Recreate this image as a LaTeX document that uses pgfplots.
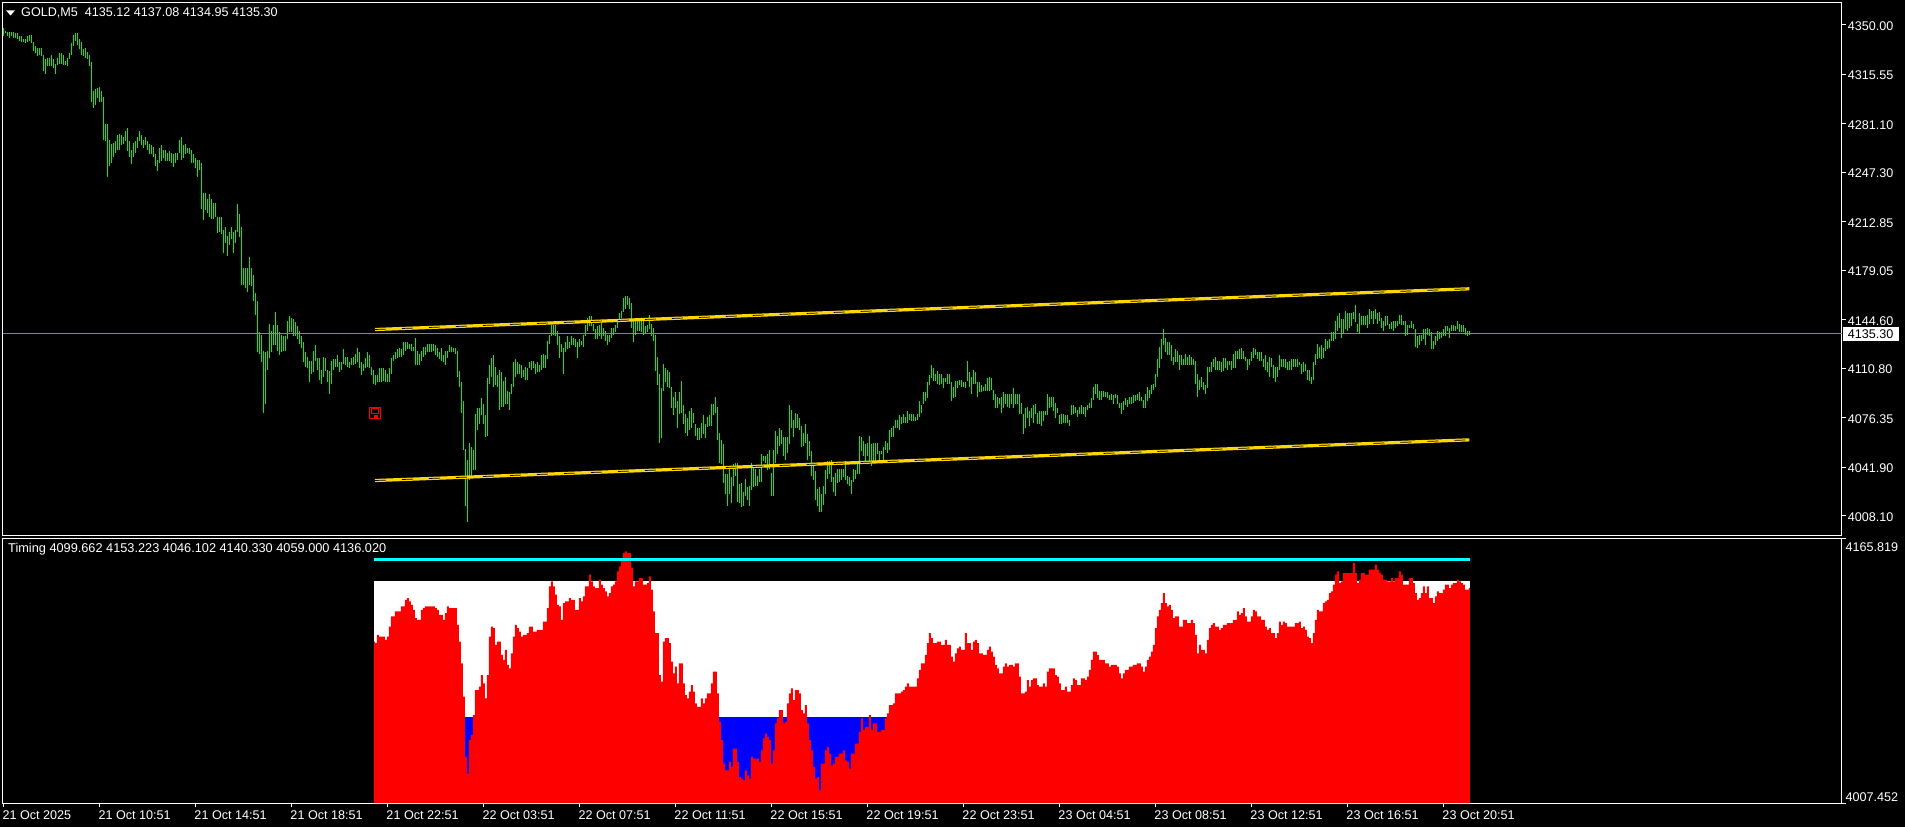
\documentclass[border=0pt]{standalone}
\usepackage{fontspec}
\setmainfont{Liberation Sans}
\usepackage{pgfplots}
\usepackage{pgfplotstable}
\pgfplotsset{compat=1.18}
\definecolor{barGreen}{HTML}{00F000}
\definecolor{lvl}{HTML}{FFD700}
\definecolor{slate}{HTML}{778899}
\definecolor{lvlcyan}{HTML}{00FFFF}
\definecolor{histblue}{HTML}{0000FF}
\definecolor{histred}{HTML}{FF0000}
\newcommand{\lbl}{\fontsize{12.6}{14}\selectfont}
\pgfdeclareplotmark{floppy}{%
  \pgfsetlinewidth{1pt}%
  \pgfpathrectangle{\pgfpoint{-5.5pt}{-5.5pt}}{\pgfpoint{11pt}{11pt}}\pgfusepathqstroke
  \pgfpathrectangle{\pgfpoint{-3.5pt}{-0.5pt}}{\pgfpoint{7pt}{5pt}}\pgfusepathqstroke
  \pgfpathrectangle{\pgfpoint{-1pt}{-5pt}}{\pgfpoint{4pt}{3pt}}\pgfusepathqfill}
\pgfplotstableread{
l h
4342 4348
4344 4346
4342 4345
4341 4345
4342 4345
4341 4345
4341 4344
4340 4344
4339 4342
4338 4342
4338 4340
4337 4340
4338 4342
4339 4343
4337 4343
4332 4338
4330 4335
4328 4334
4329 4334
4328 4334
4318 4329
4316 4326
4321 4327
4321 4327
4321 4329
4320 4326
4316 4323
4322 4327
4323 4330
4323 4330
4322 4329
4322 4325
4321 4327
4326 4330
4329 4337
4335 4343
4339 4344
4336 4344
4333 4340
4329 4338
4328 4333
4327 4334
4326 4331
4321 4329
4296 4324
4292 4304
4294 4305
4299 4306
4296 4307
4296 4304
4270 4300
4269 4281
4244 4281
4252 4270
4254 4267
4258 4268
4261 4269
4263 4273
4263 4274
4266 4273
4267 4272
4269 4276
4262 4278
4258 4269
4253 4263
4258 4268
4261 4269
4264 4272
4269 4276
4266 4273
4264 4270
4266 4272
4263 4269
4260 4267
4260 4266
4258 4265
4252 4260
4248 4256
4254 4264
4255 4266
4257 4263
4255 4263
4255 4261
4255 4262
4254 4261
4251 4260
4254 4261
4256 4261
4261 4270
4256 4272
4257 4266
4260 4267
4261 4264
4260 4264
4254 4263
4254 4260
4250 4257
4244 4256
4249 4256
4222 4254
4214 4233
4221 4233
4219 4229
4216 4232
4215 4229
4215 4226
4216 4226
4205 4216
4206 4216
4204 4216
4191 4207
4198 4209
4189 4203
4197 4206
4201 4209
4191 4206
4198 4207
4206 4225
4202 4218
4169 4209
4169 4181
4167 4181
4164 4181
4169 4188
4168 4181
4158 4176
4148 4163
4122 4158
4121 4136
4115 4134
4080 4123
4086 4122
4110 4123
4118 4142
4122 4137
4127 4141
4127 4150
4123 4141
4120 4136
4122 4134
4123 4133
4123 4133
4131 4144
4136 4147
4136 4146
4133 4145
4133 4143
4131 4140
4128 4137
4125 4133
4115 4129
4112 4122
4111 4119
4101 4116
4107 4116
4108 4123
4116 4127
4110 4118
4103 4118
4100 4110
4105 4119
4109 4118
4101 4110
4093 4109
4100 4116
4110 4117
4112 4117
4112 4120
4108 4115
4110 4115
4114 4124
4113 4119
4112 4119
4111 4115
4113 4118
4113 4119
4114 4121
4115 4125
4111 4122
4106 4115
4109 4114
4111 4118
4112 4122
4111 4120
4106 4112
4100 4110
4099 4106
4101 4106
4101 4111
4101 4111
4102 4111
4101 4110
4101 4107
4101 4111
4107 4118
4116 4120
4117 4122
4118 4124
4119 4125
4119 4124
4120 4129
4123 4129
4124 4129
4124 4128
4123 4128
4123 4126
4113 4132
4113 4123
4113 4121
4116 4123
4119 4126
4120 4126
4122 4128
4122 4128
4122 4128
4123 4128
4120 4127
4119 4125
4117 4122
4116 4125
4115 4120
4113 4123
4118 4123
4122 4127
4122 4126
4122 4125
4121 4125
4105 4123
4098 4109
4080 4101
4054 4088
4015 4055
4004 4047
4033 4059
4036 4056
4040 4054
4040 4079
4068 4083
4072 4083
4078 4090
4072 4086
4063 4078
4064 4104
4100 4113
4105 4118
4098 4120
4099 4112
4098 4106
4082 4110
4084 4108
4084 4102
4086 4105
4086 4095
4082 4094
4093 4100
4098 4115
4105 4117
4107 4115
4107 4114
4104 4113
4105 4110
4103 4112
4103 4111
4111 4115
4110 4116
4111 4116
4107 4114
4108 4115
4108 4113
4110 4120
4111 4121
4111 4120
4117 4130
4128 4134
4133 4141
4134 4141
4133 4141
4127 4137
4118 4133
4122 4128
4107 4125
4122 4129
4124 4133
4125 4129
4127 4133
4127 4132
4126 4131
4118 4129
4126 4131
4127 4130
4126 4134
4133 4141
4137 4146
4140 4147
4140 4147
4137 4142
4131 4138
4131 4140
4133 4141
4131 4144
4133 4139
4130 4137
4127 4134
4129 4134
4132 4139
4134 4139
4136 4141
4139 4143
4143 4149
4146 4151
4150 4160
4152 4161
4155 4161
4152 4160
4139 4156
4129 4145
4134 4144
4137 4145
4137 4144
4136 4144
4134 4144
4135 4140
4136 4141
4138 4148
4133 4142
4130 4139
4109 4134
4099 4119
4059 4107
4062 4097
4095 4114
4101 4111
4098 4110
4097 4108
4083 4098
4078 4091
4083 4094
4069 4088
4079 4094
4080 4102
4072 4085
4066 4079
4064 4076
4068 4081
4069 4083
4073 4080
4064 4072
4061 4069
4061 4069
4062 4073
4065 4078
4062 4072
4070 4077
4071 4078
4071 4086
4078 4086
4080 4091
4061 4084
4045 4066
4044 4061
4031 4058
4023 4037
4015 4037
4023 4041
4017 4035
4029 4044
4036 4045
4018 4045
4017 4030
4014 4031
4015 4025
4022 4034
4019 4028
4015 4029
4026 4045
4028 4043
4029 4041
4029 4036
4032 4041
4032 4051
4046 4050
4045 4050
4040 4051
4041 4054
4022 4038
4022 4054
4045 4067
4051 4064
4057 4069
4058 4068
4050 4063
4047 4063
4052 4063
4058 4085
4069 4082
4063 4075
4069 4080
4069 4079
4068 4076
4056 4071
4057 4066
4059 4072
4047 4065
4050 4060
4036 4053
4033 4043
4019 4039
4015 4027
4011 4028
4011 4023
4016 4029
4023 4040
4034 4046
4037 4046
4032 4047
4025 4035
4022 4038
4031 4041
4032 4041
4033 4041
4035 4041
4033 4046
4030 4036
4029 4035
4023 4033
4032 4041
4034 4040
4037 4045
4037 4064
4053 4063
4050 4060
4046 4058
4050 4059
4045 4064
4043 4058
4045 4059
4046 4059
4051 4059
4046 4053
4051 4053
4045 4056
4054 4060
4052 4059
4054 4068
4063 4069
4063 4071
4069 4075
4069 4075
4068 4078
4072 4077
4073 4079
4073 4077
4073 4081
4075 4079
4074 4079
4074 4079
4074 4077
4075 4079
4077 4088
4080 4085
4086 4094
4088 4094
4090 4101
4099 4106
4104 4113
4102 4111
4102 4107
4100 4109
4099 4107
4100 4107
4097 4104
4101 4104
4100 4107
4100 4107
4088 4101
4090 4098
4091 4102
4097 4102
4099 4103
4098 4103
4098 4101
4097 4101
4102 4116
4098 4108
4093 4105
4100 4110
4100 4108
4091 4101
4094 4101
4094 4099
4095 4098
4095 4100
4095 4104
4095 4105
4096 4104
4089 4096
4083 4093
4083 4091
4086 4090
4080 4091
4083 4094
4086 4093
4084 4093
4083 4093
4086 4093
4083 4097
4086 4093
4086 4093
4079 4093
4079 4087
4065 4079
4069 4083
4076 4084
4071 4081
4076 4083
4073 4085
4079 4086
4072 4080
4072 4081
4071 4081
4074 4081
4078 4081
4078 4093
4083 4091
4084 4091
4081 4091
4076 4087
4080 4083
4072 4078
4072 4079
4073 4079
4073 4078
4073 4078
4071 4075
4078 4085
4079 4085
4080 4084
4077 4082
4079 4084
4079 4085
4079 4084
4077 4084
4082 4085
4083 4087
4083 4090
4089 4098
4093 4100
4090 4100
4089 4095
4089 4095
4091 4095
4091 4094
4090 4094
4089 4092
4089 4093
4086 4092
4090 4093
4086 4092
4083 4087
4079 4087
4082 4088
4085 4090
4084 4089
4086 4091
4086 4091
4087 4092
4088 4092
4089 4093
4088 4094
4088 4091
4083 4089
4083 4093
4088 4098
4090 4096
4093 4099
4096 4100
4098 4107
4105 4117
4111 4126
4117 4131
4127 4138
4122 4132
4120 4129
4120 4129
4116 4127
4113 4119
4115 4124
4115 4123
4110 4120
4113 4120
4113 4117
4113 4121
4113 4119
4113 4120
4113 4119
4113 4117
4100 4116
4091 4107
4096 4103
4098 4105
4096 4101
4093 4099
4097 4112
4108 4112
4108 4115
4112 4117
4110 4119
4110 4116
4110 4116
4108 4115
4109 4118
4111 4118
4110 4116
4113 4116
4110 4116
4111 4121
4111 4123
4117 4123
4117 4124
4117 4125
4117 4123
4116 4119
4110 4117
4113 4117
4116 4122
4118 4125
4120 4124
4117 4122
4116 4122
4116 4122
4112 4117
4110 4120
4108 4115
4105 4119
4112 4118
4104 4113
4101 4112
4105 4112
4110 4120
4112 4117
4112 4117
4111 4117
4110 4115
4110 4116
4110 4117
4112 4117
4112 4117
4112 4117
4113 4115
4107 4114
4108 4115
4109 4114
4103 4110
4102 4110
4100 4105
4103 4115
4113 4121
4117 4128
4118 4126
4117 4127
4118 4125
4123 4131
4124 4130
4125 4131
4130 4136
4130 4136
4131 4144
4137 4147
4139 4149
4132 4145
4135 4145
4138 4151
4137 4149
4139 4149
4140 4149
4145 4150
4143 4155
4136 4142
4135 4149
4141 4147
4141 4147
4141 4147
4139 4148
4142 4152
4145 4151
4142 4151
4145 4152
4142 4149
4144 4150
4139 4146
4137 4144
4140 4147
4141 4147
4138 4142
4138 4143
4137 4144
4139 4144
4140 4144
4142 4148
4141 4148
4141 4144
4133 4144
4134 4141
4139 4141
4139 4144
4138 4142
4126 4138
4125 4133
4127 4134
4130 4134
4131 4138
4127 4138
4134 4139
4133 4138
4124 4136
4124 4130
4127 4133
4130 4137
4131 4136
4132 4136
4133 4138
4133 4140
4137 4140
4132 4139
4137 4141
4137 4141
4137 4140
4138 4144
4136 4142
4136 4141
4136 4141
4134 4139
4133 4137
4134 4137
}\pricebars
\pgfplotstableread{
v
4104
4103
4108
4107
4107
4107
4105
4107
4113
4119
4119
4122
4122
4122
4125
4125
4129
4130
4128
4126
4123
4118
4117
4117
4123
4124
4125
4125
4125
4125
4125
4124
4123
4120
4120
4117
4121
4125
4124
4124
4124
4124
4114
4104
4091
4071
4035
4025
4045
4048
4060
4075
4075
4077
4084
4079
4070
4084
4107
4113
4112
4102
4104
4104
4096
4093
4099
4090
4088
4097
4107
4114
4112
4110
4107
4108
4108
4109
4113
4113
4110
4110
4111
4111
4111
4116
4116
4124
4137
4140
4137
4132
4126
4125
4117
4127
4128
4128
4130
4129
4129
4123
4123
4130
4128
4131
4137
4137
4144
4140
4137
4136
4136
4141
4138
4136
4134
4131
4133
4137
4138
4140
4146
4149
4154
4157
4158
4157
4157
4148
4137
4140
4140
4142
4142
4138
4138
4139
4143
4135
4122
4109
4109
4084
4080
4104
4106
4106
4103
4092
4085
4089
4079
4091
4091
4079
4072
4070
4074
4078
4074
4067
4065
4065
4070
4067
4070
4073
4073
4079
4086
4086
4073
4056
4045
4031
4027
4027
4032
4029
4040
4040
4032
4023
4022
4021
4027
4024
4022
4035
4034
4034
4034
4032
4039
4046
4049
4047
4045
4031
4039
4055
4058
4063
4063
4055
4056
4067
4073
4076
4069
4075
4075
4073
4063
4061
4066
4055
4045
4039
4029
4022
4023
4015
4031
4031
4039
4041
4037
4030
4031
4035
4035
4037
4037
4039
4033
4032
4028
4037
4037
4043
4043
4050
4058
4051
4053
4053
4060
4051
4055
4055
4050
4050
4051
4051
4058
4061
4066
4066
4067
4073
4073
4073
4074
4075
4077
4079
4077
4077
4077
4077
4082
4087
4091
4091
4096
4103
4109
4106
4103
4103
4104
4104
4102
4102
4105
4102
4102
4095
4092
4097
4100
4101
4099
4099
4109
4103
4103
4099
4104
4105
4103
4097
4097
4096
4096
4099
4101
4098
4095
4090
4088
4085
4085
4089
4091
4089
4090
4090
4089
4091
4091
4083
4073
4073
4074
4081
4077
4081
4082
4082
4078
4077
4077
4079
4077
4086
4088
4088
4088
4084
4083
4079
4075
4075
4077
4074
4074
4078
4082
4081
4078
4078
4082
4082
4081
4083
4087
4093
4098
4098
4096
4093
4093
4093
4091
4091
4089
4090
4090
4090
4089
4085
4082
4085
4087
4087
4089
4089
4090
4090
4091
4091
4089
4086
4089
4093
4095
4098
4102
4112
4119
4123
4127
4133
4127
4125
4126
4123
4118
4119
4119
4113
4113
4117
4117
4115
4115
4117
4115
4108
4097
4102
4099
4099
4097
4105
4112
4114
4115
4113
4113
4111
4112
4114
4114
4115
4115
4115
4117
4117
4122
4120
4121
4124
4119
4116
4116
4119
4123
4122
4119
4119
4117
4117
4113
4111
4112
4109
4109
4106
4109
4116
4114
4116
4115
4113
4113
4113
4113
4115
4115
4116
4112
4113
4111
4107
4106
4103
4109
4117
4123
4122
4122
4127
4128
4129
4133
4134
4138
4144
4146
4139
4140
4145
4145
4145
4145
4145
4151
4145
4139
4141
4145
4145
4144
4144
4147
4147
4147
4150
4147
4145
4144
4141
4141
4140
4140
4142
4140
4142
4142
4146
4144
4138
4138
4138
4142
4142
4139
4133
4129
4130
4133
4137
4133
4137
4130
4130
4127
4131
4134
4133
4133
4135
4138
4138
4136
4138
4139
4139
4141
4140
4139
4138
4135
4135
4136
}\timingbars
\pgfplotsset{chartaxis/.style={
  scale only axis, width=1839.2pt,
  xmin=-0.4, xmax=919.2,
  axis line style={white, line width=1pt},
  tick style={white, line width=1pt},
  tick align=outside, major tick length=4pt,
  ytick pos=right, yticklabel pos=right,
  ticklabel style={text=white, font=\lbl, inner sep=0pt},
  yticklabel style={anchor=west, xshift=2pt, yshift=-1pt},
}}
\begin{document}
\begin{tikzpicture}[x=1pt,y=1pt]
\useasboundingbox (0,0) rectangle (1905,827);
\fill[black] (0,0) rectangle (1905,827);
% price pane
\begin{axis}[chartaxis, at={(2.5pt,291.3pt)}, anchor=south west, height=533.2pt,
  ymin=3994.3, ymax=4365.5,
  xtick=\empty,
  ytick={4008.10,4041.90,4076.35,4110.80,4144.60,4179.05,4212.85,4247.30,4281.10,4315.55,4350.00},
  yticklabels={4008.10,4041.90,4076.35,4110.80,4144.60,4179.05,4212.85,4247.30,4281.10,4315.55,4350.00},
]
\addplot[slate, line width=1pt, forget plot] coordinates {(-0.4,4135.30)(919.2,4135.30)};
\addplot[draw=none, mark=none, forget plot,
  error bars/.cd, y dir=plus, y explicit, error mark=none,
  error bar style={draw=barGreen, line width=1pt}]
  table[x expr=\coordindex, y=l, y error expr=\thisrow{h}-\thisrow{l}] {\pricebars};
\addplot[lvl, line width=3.2pt, forget plot] coordinates {(185.85,4137.84)(733,4166.19)};
\addplot[lvl, line width=3.2pt, forget plot] coordinates {(185.85,4032.70)(733,4061.03)};
\addplot[black, line width=0.7pt, dash pattern=on 11pt off 16pt, forget plot] coordinates {(185.85,4137.84)(733,4166.19)};
\addplot[black, line width=0.7pt, dash pattern=on 11pt off 16pt, forget plot] coordinates {(185.85,4032.70)(733,4061.03)};
\addplot[only marks, mark=floppy, red, mark options={draw=red, fill=red, solid}, forget plot] coordinates {(185.85,4080)};
\end{axis}
% timing pane
\begin{axis}[chartaxis, at={(2.5pt,24pt)}, anchor=south west, height=264.8pt,
  ymin=4007.452, ymax=4165.819,
  ytick={4007.452,4165.819}, yticklabels={,},
  xtick={0,48,...,720},
  xtick pos=bottom,
  xticklabels={21 Oct 2025,21 Oct 10:51,21 Oct 14:51,21 Oct 18:51,21 Oct 22:51,22 Oct 03:51,22 Oct 07:51,22 Oct 11:51,22 Oct 15:51,22 Oct 19:51,22 Oct 23:51,23 Oct 04:51,23 Oct 08:51,23 Oct 12:51,23 Oct 16:51,23 Oct 20:51},
  xticklabel style={anchor=north west, yshift=-4pt, xshift=-1pt},
]
\addplot[fill=white, draw=none, forget plot] coordinates {(185.25,4140.33)(733.25,4140.33)} \closedcycle;
\addplot[fill=histblue, draw=none, forget plot] coordinates {(185.25,4059.00)(733.25,4059.00)} \closedcycle;
\addplot[const plot mark mid, fill=histred, draw=none, forget plot]
  table[x expr=\coordindex+185.25, y=v] {\timingbars} \closedcycle;
\addplot[lvlcyan, line width=3pt, forget plot] coordinates {(185.25,4153.223)(733.25,4153.223)};
\end{axis}
% header texts and scale labels
\fill[white] (6,816.7) -- (15,816.7) -- (10.5,811.5) -- cycle;
\node[anchor=west, inner sep=0pt, text=white, font=\lbl] at (21,813.6) {GOLD,M5\ \ 4135.12 4137.08 4134.95 4135.30};
\node[anchor=west, inner sep=0pt, text=white, font=\fontsize{12.75}{14}\selectfont] at (8,278) {Timing 4099.662 4153.223 4046.102 4140.330 4059.000 4136.020};
\node[anchor=west, inner sep=0pt, text=white, font=\lbl] at (1845.3,280) {4165.819};
\node[anchor=west, inner sep=0pt, text=white, font=\lbl] at (1845.3,30) {4007.452};
\fill[white] (1842.7,486.3) rectangle (1899,500);
\node[anchor=west, inner sep=0pt, text=black, font=\lbl] at (1847.7,492.7) {4135.30};
\end{tikzpicture}
\end{document}
